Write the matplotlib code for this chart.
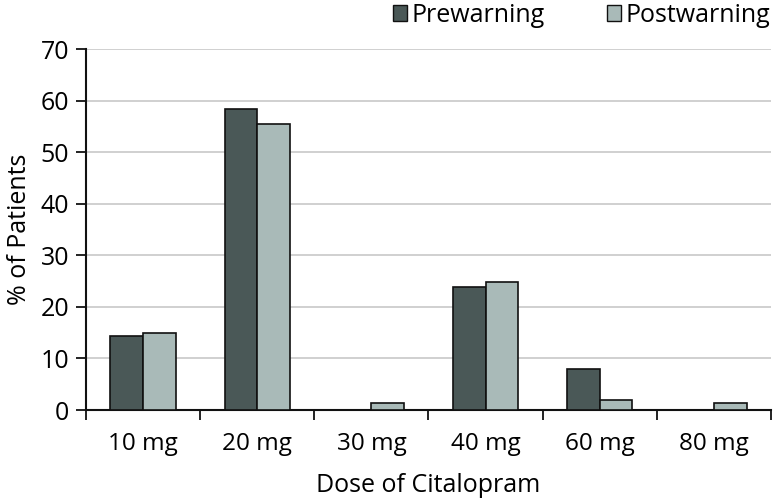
import matplotlib
matplotlib.use("Agg")
import matplotlib.pyplot as plt
import numpy as np
from matplotlib.patches import Patch

categories = ["10 mg", "20 mg", "30 mg", "40 mg", "60 mg", "80 mg"]
prewarning = [14.3, 58.3, 0, 23.8, 8.0, 0]
postwarning = [14.9, 55.4, 1.4, 24.9, 1.9, 1.4]
yticks = [0, 10, 20, 30, 40, 50, 60, 70]

plt.rcParams['font.family'] = ['Open Sans', 'DejaVu Sans']

dark = "#4a5857"
light = "#a9bab8"

fig = plt.figure(figsize=(7.76, 4.98), dpi=100)
ax = fig.add_axes([86/776, 88/498, 685/776, 361/498])

x = np.arange(len(categories))
w = 0.286
ax.bar(x - w/2, prewarning, w, color=dark, edgecolor="#111111", linewidth=1.2, zorder=3)
ax.bar(x + w/2, postwarning, w, color=light, edgecolor="#111111", linewidth=1.2, zorder=3)

ax.set_xlim(-0.5, len(categories) - 0.5)
ax.set_ylim(0, 70)
ax.set_yticks(yticks)
ax.yaxis.grid(True, color="#c8c8c8", linewidth=1.2, zorder=0)
ax.set_axisbelow(True)

ax.set_xticks(x)
ax.set_xticklabels(categories)
ax.tick_params(axis='x', which='major', length=0, pad=16, labelsize=17.5)
ax.set_xticks(np.arange(-0.5, len(categories)), minor=True)
ax.tick_params(axis='x', which='minor', length=7, width=1.3, direction='out', color="#111111")
ax.tick_params(axis='y', length=7, width=1.3, direction='out', labelsize=18, color="#111111", pad=5)

for s in ['top', 'right']:
    ax.spines[s].set_visible(False)
for s in ['left', 'bottom']:
    ax.spines[s].set_linewidth(1.5)
    ax.spines[s].set_color("#111111")

ax.set_xlabel("Dose of Citalopram", fontsize=18, labelpad=12)
ax.set_ylabel("% of Patients", fontsize=18, labelpad=6)

handles = [Patch(facecolor=dark, edgecolor="#111111", linewidth=1.0, label="Prewarning"),
           Patch(facecolor=light, edgecolor="#111111", linewidth=1.0, label="Postwarning")]
fig.legend(handles=handles, loc='upper right', bbox_to_anchor=(1.012, 1.025), ncol=2,
           frameon=False, fontsize=18, handlelength=0.55, handleheight=0.6,
           handletextpad=0.18, columnspacing=2.5, borderaxespad=0.2)

fig.savefig("out.png", dpi=100)
